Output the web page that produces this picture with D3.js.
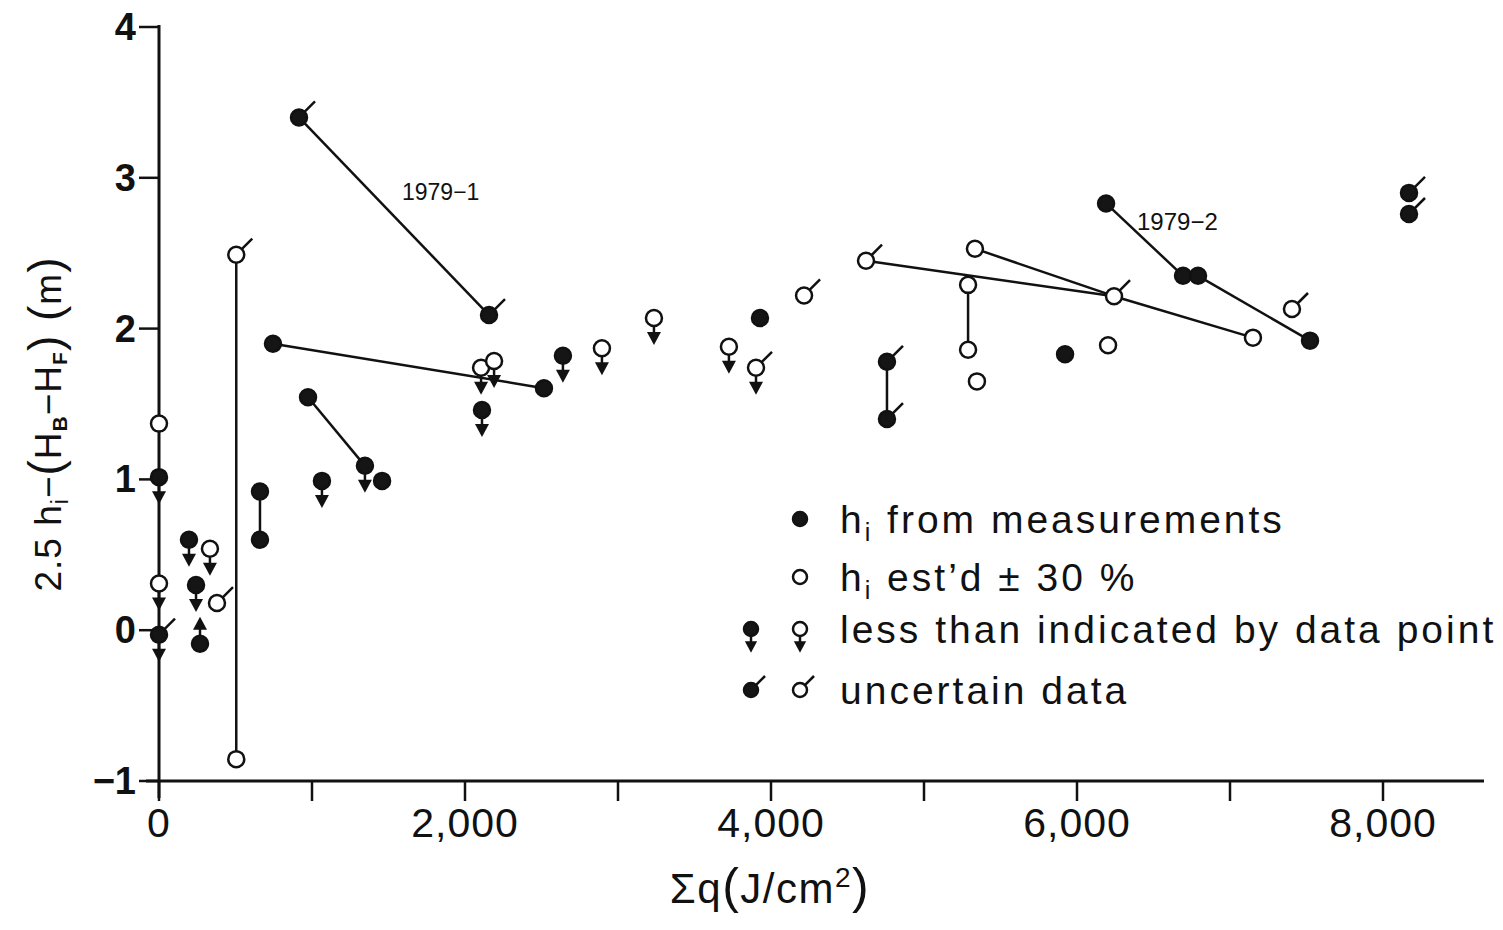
<!DOCTYPE html>
<html>
<head>
<meta charset="utf-8">
<script src="https://cdn.jsdelivr.net/npm/d3@7"></script>
<style>
  body { margin: 0; background: #fff; }
  svg text { font-family: "Liberation Sans", Arial, sans-serif; fill: #111; }
</style>
</head>
<body>
<div id="chart"></div>
<script>
// summed heat input (J/cm2) and 2.5 hi - (HB - HF) (m)
var sumQ   = [0, 0, 0, 0, 196, 333, 242, 379, 268, 505, 505, 660, 660, 745, 2516, 974, 1346, 1458, 1065, 915, 2157,
              2105, 2190, 2111, 2640, 2895, 3235, 3928, 3725, 3902, 4216, 4621, 6242, 5333, 7150, 5288, 5288, 5346,
              4758, 4758, 5922, 6203, 6190, 6693, 6791, 7523, 7405, 8170, 8170];
var height = [1.37, 1.015, 0.31, -0.03, 0.60, 0.54, 0.30, 0.18, -0.09, -0.855, 2.49, 0.92, 0.60, 1.90, 1.605, 1.545, 1.09, 0.99, 0.99, 3.40, 2.09,
              1.74, 1.785, 1.46, 1.82, 1.87, 2.07, 2.07, 1.88, 1.74, 2.22, 2.45, 2.215, 2.53, 1.94, 2.29, 1.86, 1.65,
              1.78, 1.40, 1.83, 1.89, 2.83, 2.35, 2.35, 1.92, 2.13, 2.90, 2.76];
// f = hi from measurements, o = hi estimated
var kind   = ["o","f","o","f","f","o","f","o","f","o","o","f","f","f","f","f","f","f","f","f","f",
              "o","o","f","f","o","o","f","o","o","o","o","o","o","o","o","o","o",
              "f","f","f","o","f","f","f","f","o","f","f"];
// less = less than indicated, more = more than indicated, unc = uncertain
var flag   = ["","less","less","less unc","less","less","less","unc","more","","unc","","","","","","less","","less","unc","unc",
              "less","less","less","less","less","less","","less","less unc","unc","unc","unc","","","","","",
              "unc","unc","","","","","","","unc","unc","unc"];
// point pairs joined by a line
var links  = [[9,10],[11,12],[13,14],[15,16],[19,20],[31,32],[33,32],[32,34],[35,36],[38,39],[42,43],[43,44],[44,45]];

var xTicks = [0, 1000, 2000, 3000, 4000, 5000, 6000, 7000, 8000];
var xLabels = [0, 2000, 4000, 6000, 8000];
var yTicks = [-1, 0, 1, 2, 3, 4];

var legendRows = [
  {marks: [["f",""]], text: "from measurements", sub: true},
  {marks: [["o",""]], text: "est\u2019d \u00b1 30 %", sub: true},
  {marks: [["f","less"],["o","less"]], text: "less than indicated by data point", sub: false},
  {marks: [["f","unc"],["o","unc"]], text: "uncertain data", sub: false}
];

var width = 1503, heightPx = 930;

var svg = d3.select("#chart")
  .append("svg")
    .attr("width", width)
    .attr("height", heightPx);

var x = d3.scaleLinear().domain([0, 8000]).range([159, 1383]);
var y = d3.scaleLinear().domain([-1, 4]).range([781, 27]);

// x axis
svg.append("line")
  .attr("x1", 146).attr("x2", 1484)
  .attr("y1", y(-1)).attr("y2", y(-1))
  .attr("stroke", "#111").attr("stroke-width", 3);

svg.selectAll(".xtick")
  .data(xTicks)
  .enter().append("line")
    .attr("class", "xtick")
    .attr("x1", function(d){ return x(d); })
    .attr("x2", function(d){ return x(d); })
    .attr("y1", y(-1))
    .attr("y2", y(-1) + 20)
    .attr("stroke", "#111").attr("stroke-width", 2.5);

svg.selectAll(".xlabel")
  .data(xLabels)
  .enter().append("text")
    .attr("class", "xlabel")
    .attr("x", function(d){ return x(d); })
    .attr("y", 837)
    .attr("text-anchor", "middle")
    .attr("font-size", 41)
    .attr("letter-spacing", 1)
    .text(function(d){ return d3.format(",")(d); });

// y axis
svg.append("line")
  .attr("x1", x(0)).attr("x2", x(0))
  .attr("y1", 25).attr("y2", 798)
  .attr("stroke", "#111").attr("stroke-width", 3);

svg.selectAll(".ytick")
  .data(yTicks)
  .enter().append("line")
    .attr("class", "ytick")
    .attr("x1", x(0) - 20)
    .attr("x2", x(0))
    .attr("y1", function(d){ return y(d); })
    .attr("y2", function(d){ return y(d); })
    .attr("stroke", "#111").attr("stroke-width", 2.5);

svg.selectAll(".ylabel")
  .data(yTicks)
  .enter().append("text")
    .attr("class", "ylabel")
    .attr("x", 136)
    .attr("y", function(d){ return y(d) + 13; })
    .attr("text-anchor", "end")
    .attr("font-size", 38)
    .attr("font-weight", "bold")
    .text(function(d){ return d < 0 ? "\u2212" + Math.abs(d) : d; });

// axis titles
var xt = svg.append("text")
  .attr("x", 770).attr("y", 903)
  .attr("text-anchor", "middle")
  .attr("font-size", 42)
  .attr("letter-spacing", 1.5);
xt.append("tspan").text("\u03a3q");
xt.append("tspan").attr("font-size", 50).text("(");
xt.append("tspan").text("J/cm");
xt.append("tspan").attr("font-size", 28).attr("dy", -16).text("2");
xt.append("tspan").attr("font-size", 50).attr("dy", 16).text(")");

var yt = svg.append("text")
  .attr("transform", "translate(61,424) rotate(-90)")
  .attr("text-anchor", "middle")
  .attr("font-size", 37)
  .attr("letter-spacing", 1);
yt.append("tspan").text("2.5 h");
yt.append("tspan").attr("font-size", 23).attr("dy", 7).text("i");
yt.append("tspan").attr("dy", -7).text("\u2212");
yt.append("tspan").attr("font-size", 46).text("(");
yt.append("tspan").text("H");
yt.append("tspan").attr("font-size", 21).attr("dy", 6).attr("font-weight", "bold").text("B");
yt.append("tspan").attr("dy", -6).text("\u2212H");
yt.append("tspan").attr("font-size", 21).attr("dy", 6).attr("font-weight", "bold").text("F");
yt.append("tspan").attr("dy", -6).attr("font-size", 46).text(")");
yt.append("tspan").attr("font-size", 46).text(" (");
yt.append("tspan").text("m");
yt.append("tspan").attr("font-size", 46).text(")");

// connecting lines
svg.selectAll(".link")
  .data(links)
  .enter().append("line")
    .attr("class", "link")
    .attr("x1", function(d){ return x(sumQ[d[0]]); })
    .attr("y1", function(d){ return y(height[d[0]]); })
    .attr("x2", function(d){ return x(sumQ[d[1]]); })
    .attr("y2", function(d){ return y(height[d[1]]); })
    .attr("stroke", "#111").attr("stroke-width", 2.5);

// one marker glyph, r = circle radius
function drawMarker(g, k, f, r) {
  var s = r / 8;
  if (f.indexOf("less") >= 0) {
    g.append("line").attr("x1", 0).attr("x2", 0).attr("y1", r).attr("y2", 15 * s)
      .attr("stroke", "#111").attr("stroke-width", 2.5);
    g.append("path").attr("d", "M" + (-7 * s) + "," + (14 * s) + "L" + (7 * s) + "," + (14 * s) + "L0," + (27 * s) + "Z")
      .attr("fill", "#111");
  }
  if (f.indexOf("more") >= 0) {
    g.append("line").attr("x1", 0).attr("x2", 0).attr("y1", -r).attr("y2", -15 * s)
      .attr("stroke", "#111").attr("stroke-width", 2.5);
    g.append("path").attr("d", "M" + (-7 * s) + "," + (-14 * s) + "L" + (7 * s) + "," + (-14 * s) + "L0," + (-27 * s) + "Z")
      .attr("fill", "#111");
  }
  if (f.indexOf("unc") >= 0) {
    g.append("line").attr("x1", 5 * s).attr("y1", -5 * s).attr("x2", 16 * s).attr("y2", -16 * s)
      .attr("stroke", "#111").attr("stroke-width", 2.5);
  }
  g.append("circle")
    .attr("r", r)
    .attr("fill", k == "f" ? "#151515" : "#fff")
    .attr("stroke", "#111")
    .attr("stroke-width", 2.5);
}

sumQ.forEach(function(q, i){
  var g = svg.append("g")
    .attr("class", "point")
    .attr("transform", "translate(" + x(q) + "," + y(height[i]) + ")");
  drawMarker(g, kind[i], flag[i], 8);
});

// series labels
svg.append("text").attr("x", 402).attr("y", 200).attr("font-size", 23).text("1979\u22121");
svg.append("text").attr("x", 1137).attr("y", 230).attr("font-size", 24).text("1979\u22122");

// legend
var legendY = [519, 577, 629, 690];
legendRows.forEach(function(row, i){
  var cy = legendY[i];
  row.marks.forEach(function(m, j){
    var cx = row.marks.length == 1 ? 800 : (j == 0 ? 751 : 800);
    var g = svg.append("g").attr("transform", "translate(" + cx + "," + cy + ")");
    drawMarker(g, m[0], m[1], 7);
  });
  var t = svg.append("text")
    .attr("x", 840)
    .attr("y", cy + 14)
    .attr("font-size", 39)
    .attr("letter-spacing", 3);
  if (row.sub) {
    t.append("tspan").text("h");
    t.append("tspan").attr("font-size", 25).attr("dy", 8).text("i");
    t.append("tspan").attr("dy", -8).text(" " + row.text);
  } else {
    t.text(row.text);
  }
});
</script>
</body>
</html>
